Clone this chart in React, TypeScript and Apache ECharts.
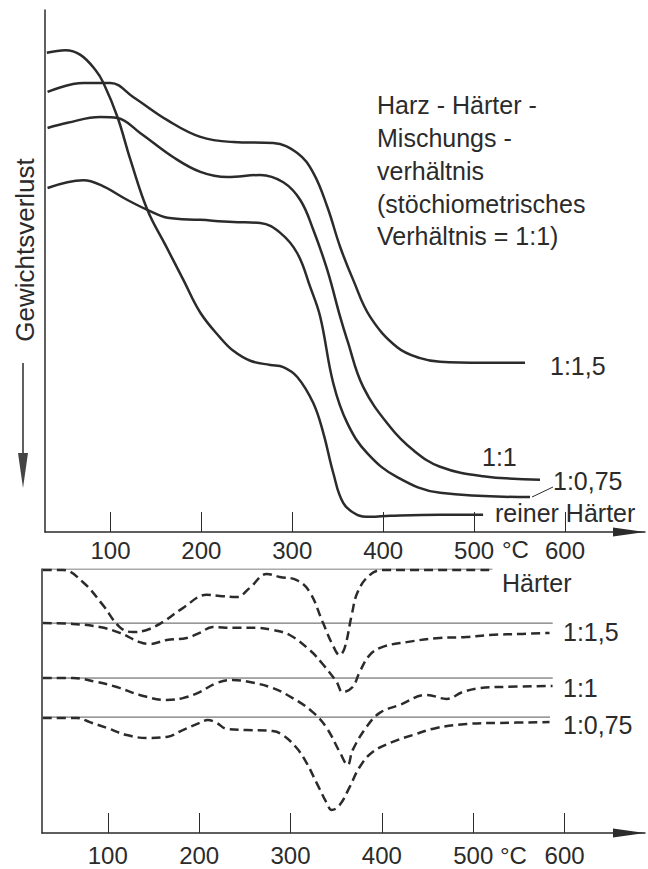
import React, { useEffect, useRef } from "react";
import * as echarts from "echarts";

// ---------- axis ticks ----------
const tickTemps = [100, 200, 300, 400, 500, 600];

// ---------- TG curves (top panel): temperature °C, weight (arbitrary 0..100) ----------
const tg15Temp = [30.8, 70.3, 100, 125.3, 162.6, 198.9, 235.2, 279.1, 305.5, 323.1, 338.5, 352.7, 367, 385.7, 415.4, 440.7, 462.6, 509.9, 556];
const tg15Val = [84.3, 86.0, 86.0, 83.3, 78.9, 75.7, 74.7, 74.5, 72.6, 68.8, 62.3, 54.6, 48.3, 41.2, 35.4, 33.3, 32.6, 32.4, 32.4];

const tg1Temp = [30.8, 52.7, 89, 107.7, 133, 169.2, 198.9, 228.6, 264.8, 290.1, 308.8, 323.1, 338.5, 352.7, 360.4, 378, 407.7, 432.9, 462.6, 509.9, 572.5];
const tg1Val = [77.4, 78.4, 79.5, 79.3, 76.4, 71.8, 69.0, 68.0, 68.4, 67.0, 63.6, 57.9, 50.2, 41.2, 36.8, 27.8, 20.1, 15.7, 12.5, 10.7, 10.0];

const tg075Temp = [30.8, 70.3, 89, 118.7, 140.7, 162.6, 198.9, 235.2, 264.8, 286.8, 305.5, 319.8, 330.8, 345.1, 360.4, 382.4, 415.4, 462.6, 561.5];
const tg075Val = [65.9, 67.4, 66.5, 63.6, 61.7, 60.2, 59.8, 59.4, 59.2, 57.3, 53.4, 46.9, 41.2, 28.5, 20.9, 15.1, 10.5, 7.5, 6.7];

const tgHTemp = [30, 50.5, 67, 83.5, 92.3, 107.7, 122, 140.7, 160.4, 180.2, 198.9, 220.9, 235.2, 253.8, 275.8, 290.1, 305.5, 323.1, 334.1, 345.1, 356, 371.4, 385.7, 407.7, 462.6, 509.9];
const tgHVal = [91.8, 92.3, 91.4, 88.5, 86.0, 79.5, 71.3, 61.7, 55.0, 48.3, 42.0, 37.2, 34.7, 32.8, 32.0, 31.6, 29.7, 24.7, 19.0, 11.3, 5.6, 3.3, 2.9, 3.1, 3.3, 3.3];

// ---------- DTA curves (bottom panel): temperature °C, signal (arbitrary 0..100) ----------
const dtaHTemp = [28.9, 50.8, 72.6, 94.5, 113.1, 127.4, 142.7, 160.2, 182.1, 208.3, 222.5, 241.1, 255.3, 273.9, 288.2, 306.8, 321, 335.2, 346.2, 353.8, 359.3, 367, 373.5, 386.6, 400.9, 427.1, 521.2];
const dtaHVal = [99.6, 99.6, 95.1, 86.4, 78.0, 76.1, 76.9, 79.9, 85.2, 90.2, 89.8, 89.4, 92.8, 98.1, 97.0, 95.8, 91.3, 79.9, 71.2, 67.4, 70.1, 82.6, 91.3, 97.7, 99.6, 99.6, 99.6];

const dta15Temp = [28.9, 61.7, 91.2, 113.1, 135, 145.9, 164.5, 186.4, 200.6, 214.9, 236.8, 263, 280.5, 299.1, 321, 335.2, 350.5, 357.1, 368, 375.7, 386.6, 400.9, 427.1, 463.2, 492.7, 517.9, 554, 583.5];
const dta15Val = [79.5, 79.2, 78.0, 75.8, 72.3, 71.6, 73.1, 73.9, 75.8, 78.0, 77.7, 77.7, 76.9, 75.0, 69.3, 64.0, 57.2, 53.4, 55.3, 61.0, 67.4, 70.5, 72.3, 73.9, 74.2, 75.0, 75.4, 75.8];

const dta1Temp = [28.9, 61.7, 88, 109.8, 135, 164.5, 182.1, 200.6, 219.2, 236.8, 255.3, 280.5, 302.4, 324.3, 339.6, 353.8, 362.6, 368, 383.3, 397.6, 419.4, 449, 470.9, 488.4, 507, 528.8, 586.8];
const dta1Val = [58.7, 58.7, 57.2, 55.3, 52.3, 50.4, 51.1, 53.4, 56.8, 58.0, 57.2, 54.9, 51.1, 45.8, 39.8, 30.7, 25.8, 31.4, 40.2, 45.5, 48.5, 52.3, 50.8, 53.4, 54.9, 55.3, 55.7];

const dta075Temp = [28.9, 66.1, 80.3, 98.9, 120.8, 142.7, 164.5, 182.1, 200.6, 209.4, 219.2, 230.2, 252.1, 280.5, 291.5, 306.8, 317.7, 328.7, 339.6, 345.1, 353.8, 364.7, 375.7, 389.9, 411.8, 433.7, 459.9, 492.7, 528.8, 583.5];
const dta075Val = [43.6, 43.6, 42.0, 39.8, 37.1, 36.0, 36.4, 39.0, 41.7, 42.8, 41.7, 39.4, 39.0, 38.6, 37.1, 32.2, 26.5, 18.9, 11.4, 8.7, 10.6, 17.4, 25.0, 30.7, 34.5, 37.1, 39.8, 41.3, 41.7, 42.0];

// baselines of DTA curves: [startTemp, endTemp], level
const baseHTemp = [28, 521];
const baseHVal = 100;
const base15Temp = [28, 587];
const base15Val = 79.5;
const base1Temp = [28, 587];
const base1Val = 58.7;
const base075Temp = [28, 584];
const base075Val = 43.9;

const zip = (t: number[], v: number[]) => t.map((x, i) => [x, v[i]]);

const INK = "#2b2b2b";
const FONT = "Liberation Sans";

export default function App() {
  const ref = useRef<HTMLDivElement>(null);

  useEffect(() => {
    document.body.style.margin = "0";
    if (!ref.current) return;
    const chart = echarts.init(ref.current, undefined, { renderer: "svg" });

    const xAxisBase = (gridIndex: number, margin: number) => ({
      type: "value",
      gridIndex,
      min: 28,
      max: 688,
      axisLine: {
        show: true,
        lineStyle: { color: INK, width: 1.5 },
        symbol: ["none", "triangle"],
        symbolSize: [9, 32],
        symbolOffset: [0, -16],
      },
      axisTick: {
        show: true,
        inside: true,
        length: 20,
        customValues: tickTemps,
        lineStyle: { color: INK, width: 1 },
      },
      axisLabel: {
        show: true,
        customValues: tickTemps,
        margin,
        fontFamily: FONT,
        fontSize: 24,
        color: INK,
      },
      splitLine: { show: false },
    });

    const yAxisBase = (gridIndex: number) => ({
      type: "value",
      gridIndex,
      min: 0,
      max: 100,
      axisLine: { show: true, lineStyle: { color: INK, width: 1.5 } },
      axisTick: { show: false },
      axisLabel: { show: false },
      splitLine: { show: false },
    });

    const solid = (name: string, t: number[], v: number[]) => ({
      name,
      type: "line",
      xAxisIndex: 0,
      yAxisIndex: 0,
      data: zip(t, v),
      smooth: 0.4,
      showSymbol: false,
      symbol: "none",
      lineStyle: { color: INK, width: 2.5 },
    });

    const dashed = (name: string, t: number[], v: number[]) => ({
      name,
      type: "line",
      xAxisIndex: 1,
      yAxisIndex: 1,
      data: zip(t, v),
      smooth: 0.4,
      showSymbol: false,
      symbol: "none",
      lineStyle: { color: INK, width: 2.5, type: [9, 5] },
    });

    const baseline = (name: string, t: number[], v: number) => ({
      name,
      type: "line",
      xAxisIndex: 1,
      yAxisIndex: 1,
      data: t.map((x) => [x, v]),
      showSymbol: false,
      symbol: "none",
      lineStyle: { color: "#555", width: 1 },
    });

    const txt = (text: string, x: number, y: number, size = 25) => ({
      type: "text",
      x,
      y,
      style: {
        text,
        fill: INK,
        font: `${size}px "${FONT}"`,
        align: "left",
        verticalAlign: "middle",
      },
    });

    chart.setOption({
      animation: false,
      backgroundColor: "#ffffff",
      grid: [
        { left: 45, top: 10, width: 600, height: 522 },
        { left: 42, top: 569, width: 603, height: 264 },
      ],
      xAxis: [xAxisBase(0, 6), xAxisBase(1, 10)],
      yAxis: [yAxisBase(0), yAxisBase(1)],
      series: [
        solid("1:1,5", tg15Temp, tg15Val),
        solid("1:1", tg1Temp, tg1Val),
        solid("1:0,75", tg075Temp, tg075Val),
        solid("reiner Härter", tgHTemp, tgHVal),
        baseline("Basis Härter", baseHTemp, baseHVal),
        baseline("Basis 1:1,5", base15Temp, base15Val),
        baseline("Basis 1:1", base1Temp, base1Val),
        baseline("Basis 1:0,75", base075Temp, base075Val),
        dashed("DTA Härter", dtaHTemp, dtaHVal),
        dashed("DTA 1:1,5", dta15Temp, dta15Val),
        dashed("DTA 1:1", dta1Temp, dta1Val),
        dashed("DTA 1:0,75", dta075Temp, dta075Val),
      ],
      graphic: [
        txt("Harz - Härter -", 377, 105),
        txt("Mischungs -", 377, 138),
        txt("verhältnis", 377, 171),
        txt("(stöchiometrisches", 377, 204),
        txt("Verhältnis = 1:1)", 377, 236),
        txt("1:1,5", 550, 366),
        txt("1:1", 482, 457),
        txt("1:0,75", 553, 481),
        txt("reiner Härter", 495, 513),
        txt("°C", 502, 549, 24),
        {
          type: "line",
          shape: { x1: 532, y1: 497, x2: 553, y2: 487 },
          style: { stroke: INK, lineWidth: 1 },
        },
        txt("Härter", 502, 583),
        txt("1:1,5", 563, 632),
        txt("1:1", 563, 688),
        txt("1:0,75", 563, 725),
        txt("°C", 500, 855, 24),
        {
          type: "text",
          x: 25,
          y: 250,
          rotation: Math.PI / 2,
          style: {
            text: "Gewichtsverlust",
            fill: INK,
            font: `26px "${FONT}"`,
            align: "center",
            verticalAlign: "middle",
          },
        },
        {
          type: "line",
          shape: { x1: 23, y1: 363, x2: 23, y2: 458 },
          style: { stroke: INK, lineWidth: 1.5 },
        },
        {
          type: "polygon",
          shape: { points: [[18, 453], [28, 453], [23, 488]] },
          style: { fill: "#444" },
        },
      ],
    });

    return () => chart.dispose();
  }, []);

  return <div ref={ref} style={{ width: 648, height: 869 }} />;
}
